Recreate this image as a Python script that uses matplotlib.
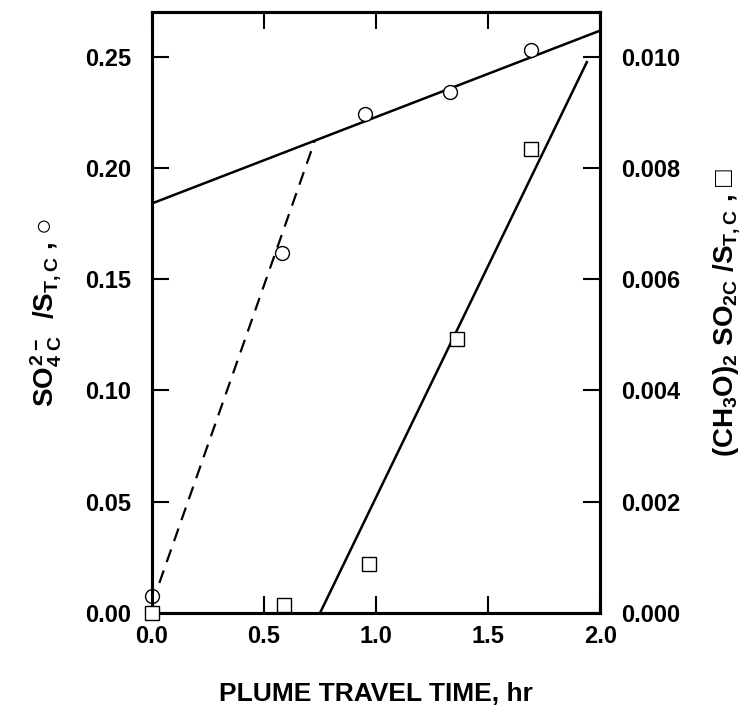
import matplotlib.pyplot as plt

plt.rcParams['font.family'] = ['Liberation Sans', 'DejaVu Sans']
plt.rcParams['font.weight'] = 'bold'
plt.rcParams['mathtext.fontset'] = 'custom'
plt.rcParams['mathtext.rm'] = 'Liberation Sans:bold'
plt.rcParams['mathtext.it'] = 'Liberation Sans:bold'
plt.rcParams['mathtext.bf'] = 'Liberation Sans:bold'

# sulfate ratio (left axis, circles)
t_circ = [0.0, 0.58, 0.95, 1.33, 1.69]
so4 = [0.0076, 0.1616, 0.2244, 0.2343, 0.2531]

# dimethyl sulfate ratio (right axis, squares)
t_sq = [0.0, 0.59, 0.97, 1.36, 1.69]
dms = [0.0, 0.00014, 0.00088, 0.00492, 0.00833]

# fitted lines
fit_top_t = [0.0, 2.0]
fit_top_y = [0.184, 0.2617]
fit_dash_t = [0.0, 0.726]
fit_dash_y = [0.004, 0.212]
fit_sq_t = [0.75, 1.94]
fit_sq_y = [0.0, 0.0099]

fig = plt.figure(figsize=(7.56, 7.11), dpi=100)
ax = fig.add_axes([0.201, 0.138, 0.593, 0.845])
ax2 = ax.twinx()

ax.plot(fit_top_t, fit_top_y, color='black', lw=1.8)
ax.plot(fit_dash_t, fit_dash_y, color='black', lw=1.6, ls=(0, (6, 4)))
ax.plot(t_circ, so4, ls='none', marker='o', ms=10, mfc='white', mec='black',
        mew=1.0, clip_on=False, zorder=5)

ax2.plot(fit_sq_t, fit_sq_y, color='black', lw=1.8)
ax2.plot(t_sq, dms, ls='none', marker='s', ms=9.5, mfc='white', mec='black',
         mew=1.0, clip_on=False, zorder=5)

ax.set_xlim(0, 2.0)
ax.set_ylim(0, 0.270)
ax2.set_ylim(0, 0.0108)

ax.set_xticks([0.0, 0.5, 1.0, 1.5, 2.0])
ax.set_xticklabels(['0.0', '0.5', '1.0', '1.5', '2.0'])
ax.set_yticks([0.0, 0.05, 0.10, 0.15, 0.20, 0.25])
ax.set_yticklabels(['0.00', '0.05', '0.10', '0.15', '0.20', '0.25'])
ax2.set_yticks([0.0, 0.002, 0.004, 0.006, 0.008, 0.010])
ax2.set_yticklabels(['0.000', '0.002', '0.004', '0.006', '0.008', '0.010'])

ax.tick_params(axis='x', direction='in', length=12, width=1.5, top=True,
               labelsize=17, pad=9)
ax.tick_params(axis='y', direction='in', length=12, width=1.5,
               labelsize=17, pad=15)
ax2.tick_params(axis='y', direction='in', length=12, width=1.5,
                labelsize=17, pad=15)

for a in (ax, ax2):
    for s in a.spines.values():
        s.set_linewidth(2.2)

ax.set_xlabel('PLUME TRAVEL TIME, hr', fontsize=19, fontweight='bold',
              labelpad=24)
ax.set_ylabel(r'$SO_{4\ C}^{2-}\ \ /S_{T,C}$ , ○', fontsize=20,
              fontweight='bold', labelpad=16)
ax2.set_ylabel(r'$(CH_{3}O)_{2}\ SO_{2C}\ /S_{T,C}$ , □', fontsize=20,
               fontweight='bold', rotation=90, labelpad=22)

fig.savefig('out.png', dpi=100)
